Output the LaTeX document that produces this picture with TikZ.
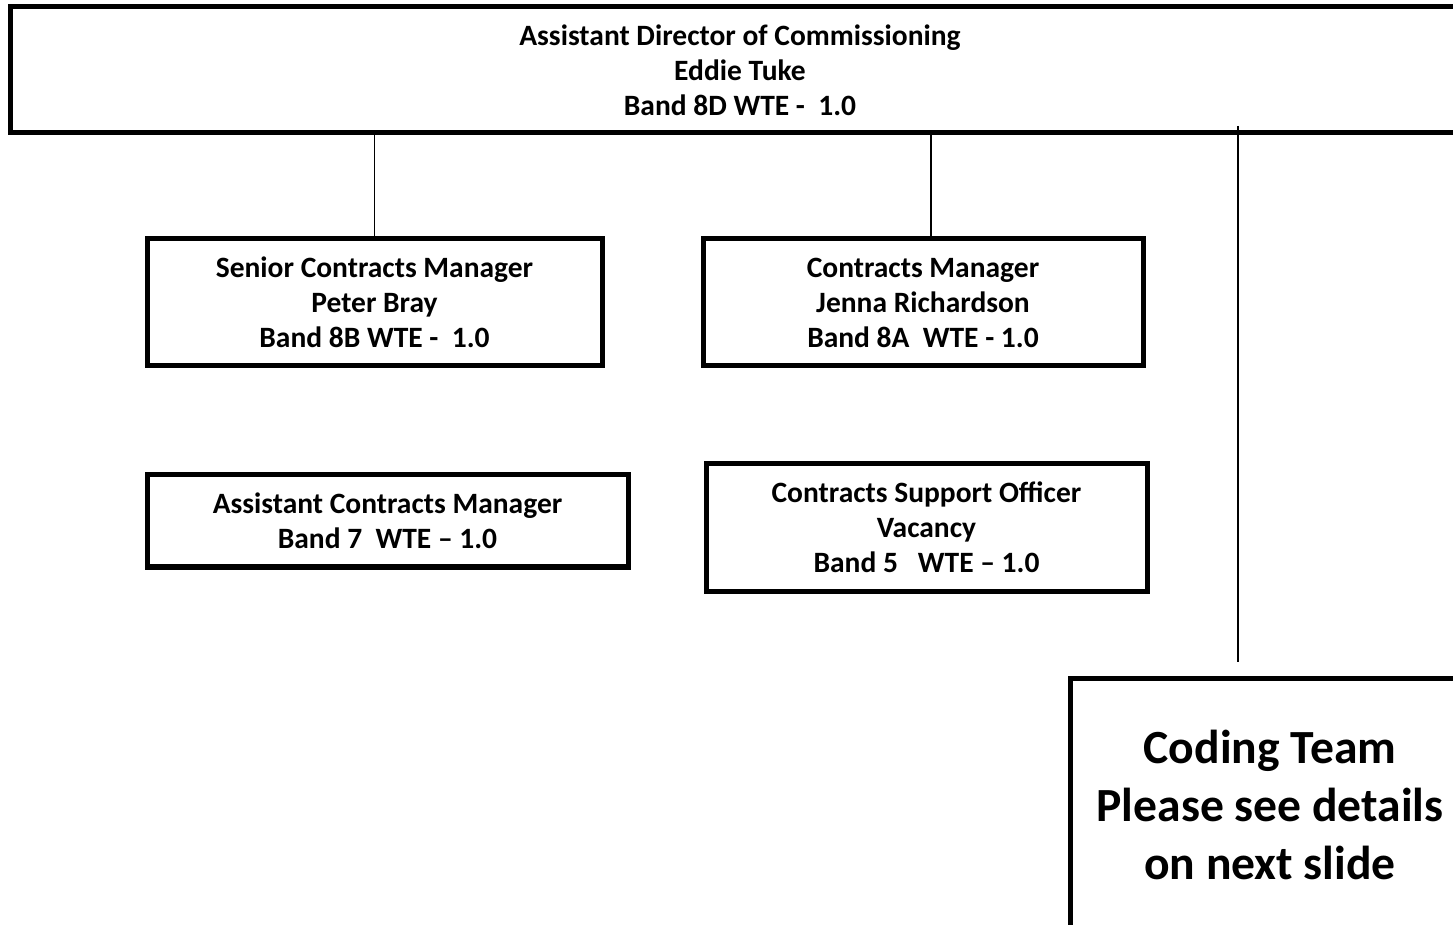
\documentclass[tikz,border=0pt]{standalone}
\usepackage{fontspec}
\setmainfont{Carlito}

\begin{document}
\begin{tikzpicture}[x=0.5pt,y=-0.5pt,line width=2.5pt,draw=black]
    \tikzstyle{post}=[rectangle,draw,line width=2.5pt,align=center,inner sep=0pt,
        font=\bfseries\fontsize{14.75}{17.5}\selectfont]
    \tikzstyle{big post}=[post,font=\bfseries\fontsize{23.8}{29}\selectfont]
    \tikzstyle{link}=[line width=0.75pt]

    \useasboundingbox (0,0) rectangle (1453,925);
    \clip (0,0) rectangle (1453,925);

    % Draw the director box
    \node[post,minimum width=1460*0.5pt,minimum height=126*0.5pt] (D-1) at (740,70)
        {Assistant Director of Commissioning\\Eddie Tuke\\Band 8D WTE -\ \ 1.0};

    % Draw the managers
    \node[post,minimum width=455*0.5pt,minimum height=127*0.5pt] (M-1) at (374.5,302.5)
        {Senior Contracts Manager\\Peter Bray\\Band 8B WTE -\ \ 1.0};
    \node[post,minimum width=440*0.5pt,minimum height=127*0.5pt] (M-2) at (923,302.5)
        {Contracts Manager\\Jenna Richardson\\Band 8A\ \ WTE - 1.0};

    % Draw the support staff
    \node[post,minimum width=481*0.5pt,minimum height=92*0.5pt] (S-1) at (387.5,521)
        {Assistant Contracts Manager\\Band 7\ \ WTE -- 1.0};
    \node[post,minimum width=441*0.5pt,minimum height=127*0.5pt] (S-2) at (926.5,527.5)
        {Contracts Support Officer\\Vacancy\\Band 5\ \ \ WTE -- 1.0};

    % Draw the coding team box
    \node[big post,minimum width=400*0.5pt,minimum height=254*0.5pt] (C-1) at (1270,805)
        {Coding Team\\Please see details\\on next slide};

    % Connect the director with the managers
    \draw[link] (D-1.south -| M-1.north) -- (M-1.north);
    \draw[link] (D-1.south -| 931,0) -- ([xshift=4pt]M-2.north);

    % Connect the director with the coding team
    \coordinate (c-top) at (1238,126);
    \coordinate (c-end) at (1238,662);
    \draw[link] (c-top) -- (c-end);
\end{tikzpicture}
\end{document}
